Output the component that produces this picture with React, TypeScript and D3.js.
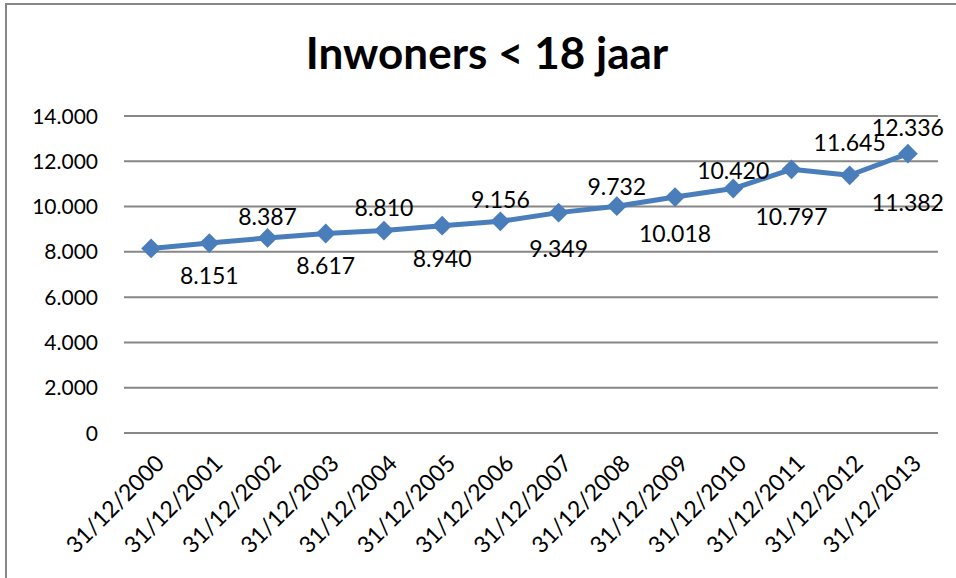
import React from 'react';
import * as d3 from 'd3';

const categories = ['31/12/2000','31/12/2001','31/12/2002','31/12/2003','31/12/2004','31/12/2005','31/12/2006','31/12/2007','31/12/2008','31/12/2009','31/12/2010','31/12/2011','31/12/2012','31/12/2013'];
const values = [8151, 8387, 8617, 8810, 8940, 9156, 9349, 9732, 10018, 10420, 10797, 11645, 11382, 12336];
const yTicks = [0, 2000, 4000, 6000, 8000, 10000, 12000, 14000];
const title = 'Inwoners < 18 jaar';

const W = 956, H = 578;
const FONT = 'Lato, "Open Sans", sans-serif';
const BLUE = '#4A7EBB';
const GRID = '#878787';

export default function App() {
  const x = d3.scaleBand().domain(categories).range([122, 937]);
  const cx = (c: string) => (x(c) as number) + x.bandwidth() / 2;
  const y = d3.scaleLinear().domain([0, 14000]).range([433, 116]);
  const fmt = d3.formatLocale({ decimal: ',', thousands: '.', grouping: [3], currency: ['€', ''] }).format(',d');
  const line = d3.line<number>().x((_, i) => cx(categories[i])).y(v => y(v));
  const diamond = d3.symbol().type(d3.symbolDiamond2).size(250)() as string;
  const n = categories.length;

  return (
    <svg width={W} height={H} style={{ position: 'absolute', left: 0, top: 0, background: '#fff' }} fontFamily={FONT}>
      <rect x={6} y={4} width={W} height={H} fill="#fff" stroke={GRID} strokeWidth={2} />
      <text x={487} y={69} textAnchor="middle" fontSize={44} fontWeight="bold">{title}</text>
      {yTicks.map(t => (
        <g key={t}>
          <line x1={124} x2={938} y1={y(t)} y2={y(t)} stroke={GRID} strokeWidth={2} />
          <text x={98} y={y(t)} dy="0.36em" textAnchor="end" fontSize={21}>{fmt(t)}</text>
        </g>
      ))}
      {categories.map(c => (
        <text key={c} transform={`translate(${cx(c) + 9},${459}) rotate(-45)`} textAnchor="end" dy="0.35em" fontSize={23}>{c}</text>
      ))}
      <path d={line(values) as string} fill="none" stroke={BLUE} strokeWidth={5} strokeLinejoin="round" />
      {values.map((v, i) => (
        <path key={i} d={diamond} transform={`translate(${cx(categories[i])},${y(v)})`} fill={BLUE} />
      ))}
      {values.map((v, i) => {
        const p = Math.min(i + 1, n - 1);
        const above = i % 2 === 1;
        return (
          <text key={'l' + i} x={cx(categories[p])} y={y(v) + (above ? -26 : 28)} dy="0.35em" textAnchor="middle" fontSize={23}>{fmt(v)}</text>
        );
      })}
    </svg>
  );
}
